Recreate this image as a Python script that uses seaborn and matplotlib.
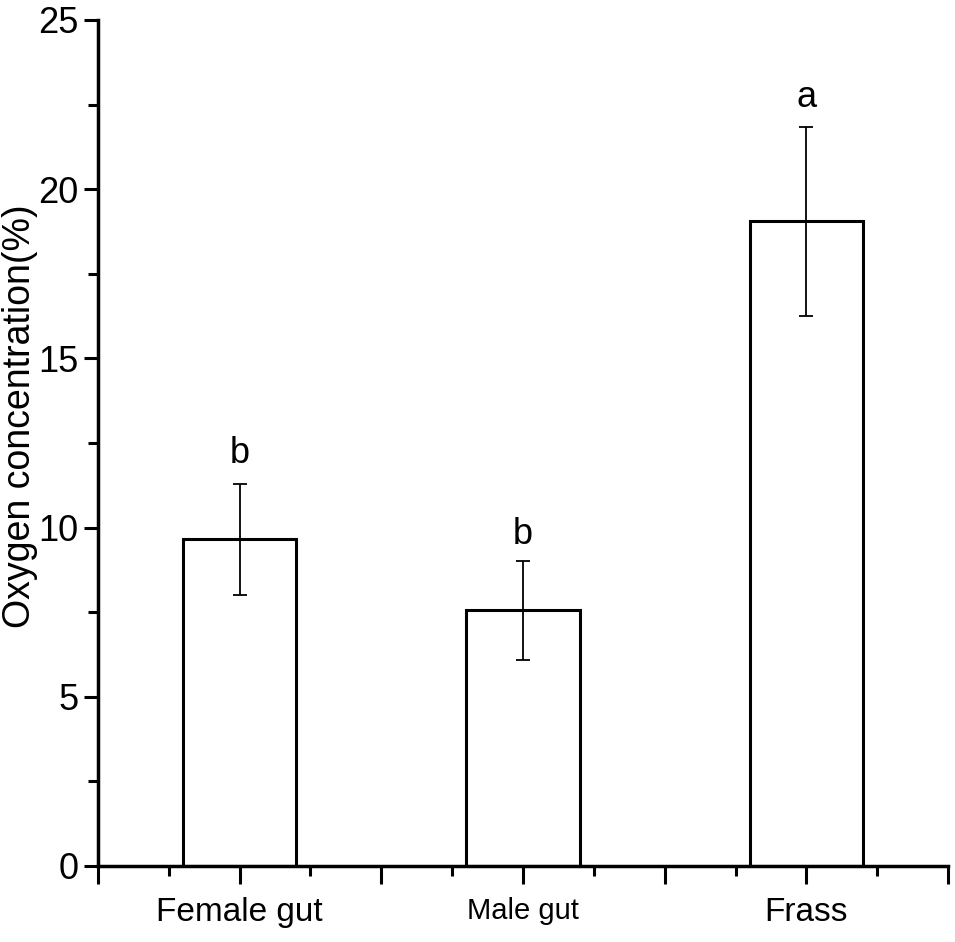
import numpy as np
import pandas as pd
import matplotlib
matplotlib.use('Agg')
import matplotlib.pyplot as plt
import seaborn as sns
from matplotlib.ticker import FixedLocator, MultipleLocator

# values
groups = ['Female gut', 'Male gut', 'Frass']
oxygen = [9.65, 7.55, 19.05]
sd = [1.63, 1.45, 2.8]
letters = ['b', 'b', 'a']
letter_y = [12.2, 9.8, 22.7]

df = pd.DataFrame({'group': groups, 'oxygen': oxygen})

sns.set_style('ticks')
plt.rcParams['font.family'] = ['Liberation Sans', 'DejaVu Sans']
plt.rcParams.update({'text.color': 'black', 'axes.labelcolor': 'black',
                     'xtick.color': 'black', 'ytick.color': 'black'})

fig = plt.figure(figsize=(9.55, 9.42), dpi=100)
ax = fig.add_axes([0.1026, 0.0807, 0.8901, 0.8981])

sns.barplot(data=df, x='group', y='oxygen', order=groups, width=0.4,
            color='white', edgecolor='black', linewidth=2.2, errorbar=None, ax=ax)

xpos = np.arange(len(groups))
ax.errorbar(xpos, oxygen, yerr=sd, fmt='none', ecolor='black',
            elinewidth=1.3, capsize=5, capthick=1.3)

for x, t, y in zip(xpos, letters, letter_y):
    ax.text(x, y, t, ha='center', va='center', fontsize=26)

ax.set_xlim(-0.5, 2.5)
ax.set_ylim(0, 25)

# x ticks: majors every half category, labels only at bars
major_x = np.arange(-0.5, 2.51, 0.5)
ax.xaxis.set_major_locator(FixedLocator(major_x))
xlabels = ['' if abs(v - round(v)) > 1e-6 else groups[int(round(v))] for v in major_x]
ax.set_xticklabels(xlabels)
ax.xaxis.set_minor_locator(FixedLocator(np.arange(-0.25, 2.5, 0.5)))
ax.yaxis.set_major_locator(MultipleLocator(5))
ax.yaxis.set_minor_locator(MultipleLocator(2.5))

ax.tick_params(axis='both', which='major', direction='out', width=2.2, labelsize=26)
ax.tick_params(axis='x', which='major', length=13, pad=9, labelsize=24)
ax.tick_params(axis='y', which='major', length=10, pad=4)
ax.tick_params(axis='both', which='minor', direction='out', width=2.2, length=7)

for lab in ax.get_xticklabels():
    if lab.get_text() == 'Male gut':
        lab.set_fontsize(21)

ax.set_xlabel('')
ax.set_ylabel('Oxygen concentration(%)', fontsize=27)
ax.yaxis.set_label_coords(-0.071, 0.532)

for side in ['top', 'right']:
    ax.spines[side].set_visible(False)
for side in ['left', 'bottom']:
    ax.spines[side].set_linewidth(2.5)
    ax.spines[side].set_color('black')

fig.savefig('out.png', dpi=100)
